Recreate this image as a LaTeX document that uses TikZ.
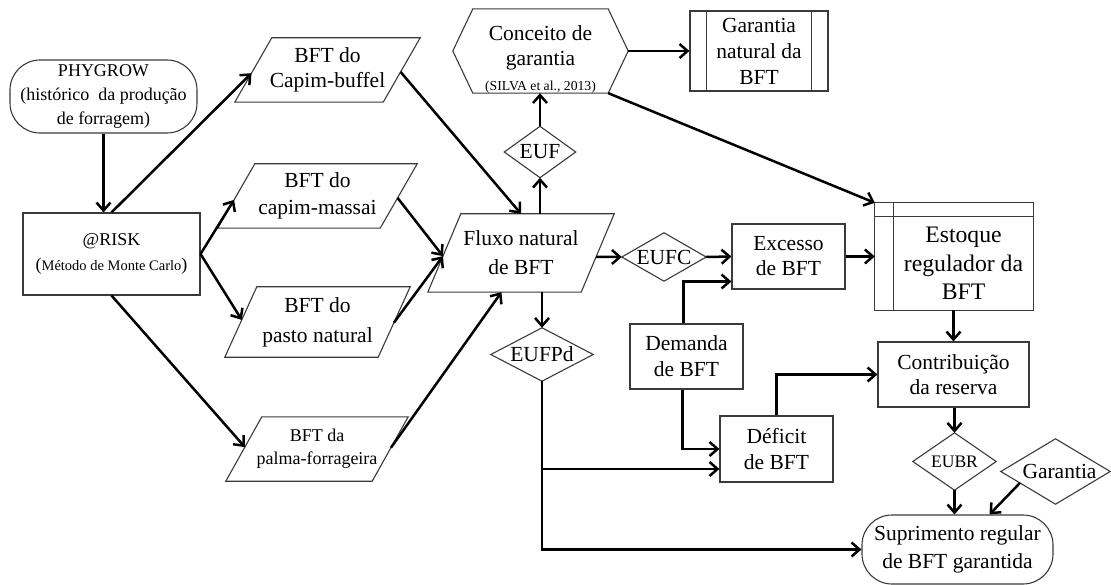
\documentclass[tikz,border=0pt]{standalone}
\usepackage{fontspec}
\setmainfont{Liberation Serif}
\usetikzlibrary{arrows.meta,calc}
\definecolor{olc}{HTML}{3A3A3A}
\newcommand\fA{\fontsize{21.5}{26}\selectfont}
\newcommand\parabox[2]{%
  \draw[ol] ([xshift=#2pt]#1.north west) coordinate (#1-tl) -- (#1.north east) coordinate (#1-tr)
   -- ([xshift=-#2pt]#1.south east) coordinate (#1-br) -- (#1.south west) coordinate (#1-bl) -- cycle;}
\newcommand\diam[1]{\draw[ol] (#1.west) -- (#1.north) -- (#1.east) -- (#1.south) -- cycle;}
\begin{document}
\begin{tikzpicture}[x=1pt,y=-1pt,
  every node/.style={inner sep=0pt, align=center, text=black},
  ol/.style={draw=olc, line width=1.1pt},
  arr/.style={draw=black, line width=2.5pt, -{Straight Barb[length=8pt,width=14pt]}},
  ]
\useasboundingbox (0,0) rectangle (1111,585);

% left column
\node[ol, rounded corners=30pt, minimum width=187pt, minimum height=73pt, font=\fontsize{18}{24}\selectfont] (phy) at (103.5,96.5) {PHYGROW\\(histórico\ \ da produção\\de forragem)};
\node[ol, minimum width=177pt, minimum height=82pt, font=\fontsize{18}{25}\selectfont] (risk) at (111.5,254) {@RISK\\({\fontsize{14.5}{25}\selectfont Método de Monte Carlo})};

% parallelograms
\node[minimum width=185pt, minimum height=64pt, font=\fontsize{21.5}{25}\selectfont] (cb) at (327.5,70) {BFT do\\Capim-buffel};
\parabox{cb}{37}
\node[minimum width=199pt, minimum height=64pt, font=\fontsize{21.5}{27}\selectfont] (cm) at (317.5,196) {BFT do\\capim-massai};
\parabox{cm}{37}
\node[minimum width=185pt, minimum height=70pt, font=\fontsize{21.5}{30}\selectfont] (pn) at (317.5,322) {BFT do\\pasto natural};
\parabox{pn}{32}
\node[minimum width=182pt, minimum height=64pt, font=\fontsize{18}{23}\selectfont] (pf) at (317,449) {BFT da\\palma-forrageira};
\parabox{pf}{36}
\node[minimum width=186pt, minimum height=78pt, font=\fontsize{21.5}{29}\selectfont] (fl) at (521,253) {Fluxo natural\\de BFT};
\parabox{fl}{33}

% top
\node[minimum width=175pt, minimum height=80pt, font=\fontsize{21.5}{25}\selectfont] (cg) at (540.5,51) {\rule{0pt}{31pt}Conceito de\\garantia\\{\fontsize{13.7}{16}\selectfont (SILVA et al., 2013)}};
\draw[ol] (cg.west) -- ([xshift=20pt]cg.north west) -- ([xshift=-20pt]cg.north east) -- (cg.east)
  -- ([xshift=-20pt]cg.south east) -- ([xshift=20pt]cg.south west) -- cycle;
\node[ol, minimum width=138pt, minimum height=80pt, font=\fA] (gn) at (759,51) {Garantia\\natural da\\BFT};
\draw[ol] ([xshift=17pt]gn.north west) -- ([xshift=17pt]gn.south west);
\draw[ol] ([xshift=-17pt]gn.north east) -- ([xshift=-17pt]gn.south east);

% diamonds
\node[minimum width=71pt, minimum height=51pt, font=\fA] (euf) at (540,152) {EUF};
\diam{euf}
\node[minimum width=84pt, minimum height=48pt, font=\fA] (eufc) at (664,257) {EUFC};
\diam{eufc}
\node[minimum width=102pt, minimum height=53pt, font=\fA] (eufpd) at (542,354.5) {EUFPd};
\diam{eufpd}
\node[minimum width=83pt, minimum height=57pt, font=\fontsize{17.6}{20}\selectfont] (eubr) at (954.5,461.5) {EUBR};
\diam{eubr}
\node[minimum width=109pt, minimum height=65pt, font=\fA] (gar) at (1055.5,471.5) {\hspace*{8pt}Garantia};
\diam{gar}

% boxes
\node[ol, minimum width=113pt, minimum height=65pt, font=\fontsize{21.5}{25}\selectfont] (exc) at (788.5,256.5) {Excesso\\de BFT};
\node[ol, minimum width=113pt, minimum height=65pt, font=\fA] (dem) at (686.5,356.5) {Demanda\\de BFT};
\node[ol, minimum width=113pt, minimum height=66pt, font=\fA] (def) at (776.5,449) {Déficit\\de BFT};
\node[ol, minimum width=151pt, minimum height=65pt, font=\fontsize{21.5}{25}\selectfont] (con) at (953.5,374.5) {Contribuição\\da reserva};
\node[ol, rounded corners=30pt, minimum width=191pt, minimum height=69pt, font=\fontsize{21.5}{28}\selectfont] (sup) at (957.5,549.5) {Suprimento regular\\de BFT garantida};

% estoque
\node[minimum width=139pt, minimum height=93pt, font=\fontsize{23.7}{28.5}\selectfont] (est) at (963.5,263.5) {Estoque\\regulador da\\BFT};
\coordinate (est-otl) at ([shift={(-19,-14)}]est.north west);
\draw[ol] (est-otl) rectangle (est.south east);
\draw[ol] (est-otl -| est.west) -- (est.south west);
\draw[ol] (est-otl |- est.north) -- (est.north east);

% connectors
\draw[arr] (phy.south) -- (phy.south |- risk.north);
\draw[arr] (risk.north) -- ($(cb-bl)!0.45!(cb-tl)$);
\draw[arr] (risk.east) -- ($(cm-bl)!0.44!(cm-tl)$);
\draw[arr] (risk.east) -- ($(pn-bl)!0.53!(pn-tl)$);
\draw[arr] (risk.south) -- ($(pf-bl)!0.53!(pf-tl)$);
\draw[arr] ($(cb-br)!0.47!(cb-tr)$) -- (fl.north);
\coordinate (flin) at ($(fl-bl)!0.46!(fl-tl)$);
\draw[arr] ($(cm-br)!0.47!(cm-tr)$) -- (flin);
\draw[arr] ($(pn-br)!0.49!(pn-tr)$) -- (flin);
\draw[arr] ($(pf-br)!0.52!(pf-tr)$) -- ($(fl-bl)!0.48!(fl-br)$);
\draw[arr] (euf.south |- fl.north) -- (euf.south);
\draw[arr] (euf.north) -- (euf.north |- cg.south);
\draw[arr] (cg.east) -- (gn.west);
\draw[arr] ([xshift=-20pt]cg.south east) -- (est-otl);
\draw[arr] ($(fl-br)!0.45!(fl-tr)$) -- (eufc.west);
\draw[arr] (eufc.east) -- (exc.west);
\draw[arr] ([xshift=-3pt]dem.north) |- ([yshift=-25pt]exc.west);
\draw[arr] (exc.east) -- (exc.east -| est-otl);
\draw[arr] (eufpd.north |- fl.south) -- (eufpd.north);
\draw[arr] ([xshift=-4pt]dem.south) |- (def.west);
\coordinate (dfin) at ([yshift=-20pt]def.west);
\draw[arr] (eufpd.south) |- (sup.west);
\draw[arr] (eufpd.south |- dfin) -- (dfin);
\draw[arr] (def.north) |- (con.west);
\draw[arr] (con.north |- est.south) -- (con.north);
\draw[arr] (eubr.north |- con.south) -- (eubr.north);
\draw[arr] (eubr.south) -- (eubr.south |- sup.north);
\draw[arr] ($(gar.west)!0.35!(gar.south)$) -- ([xshift=32pt]sup.north);
\end{tikzpicture}
\end{document}
